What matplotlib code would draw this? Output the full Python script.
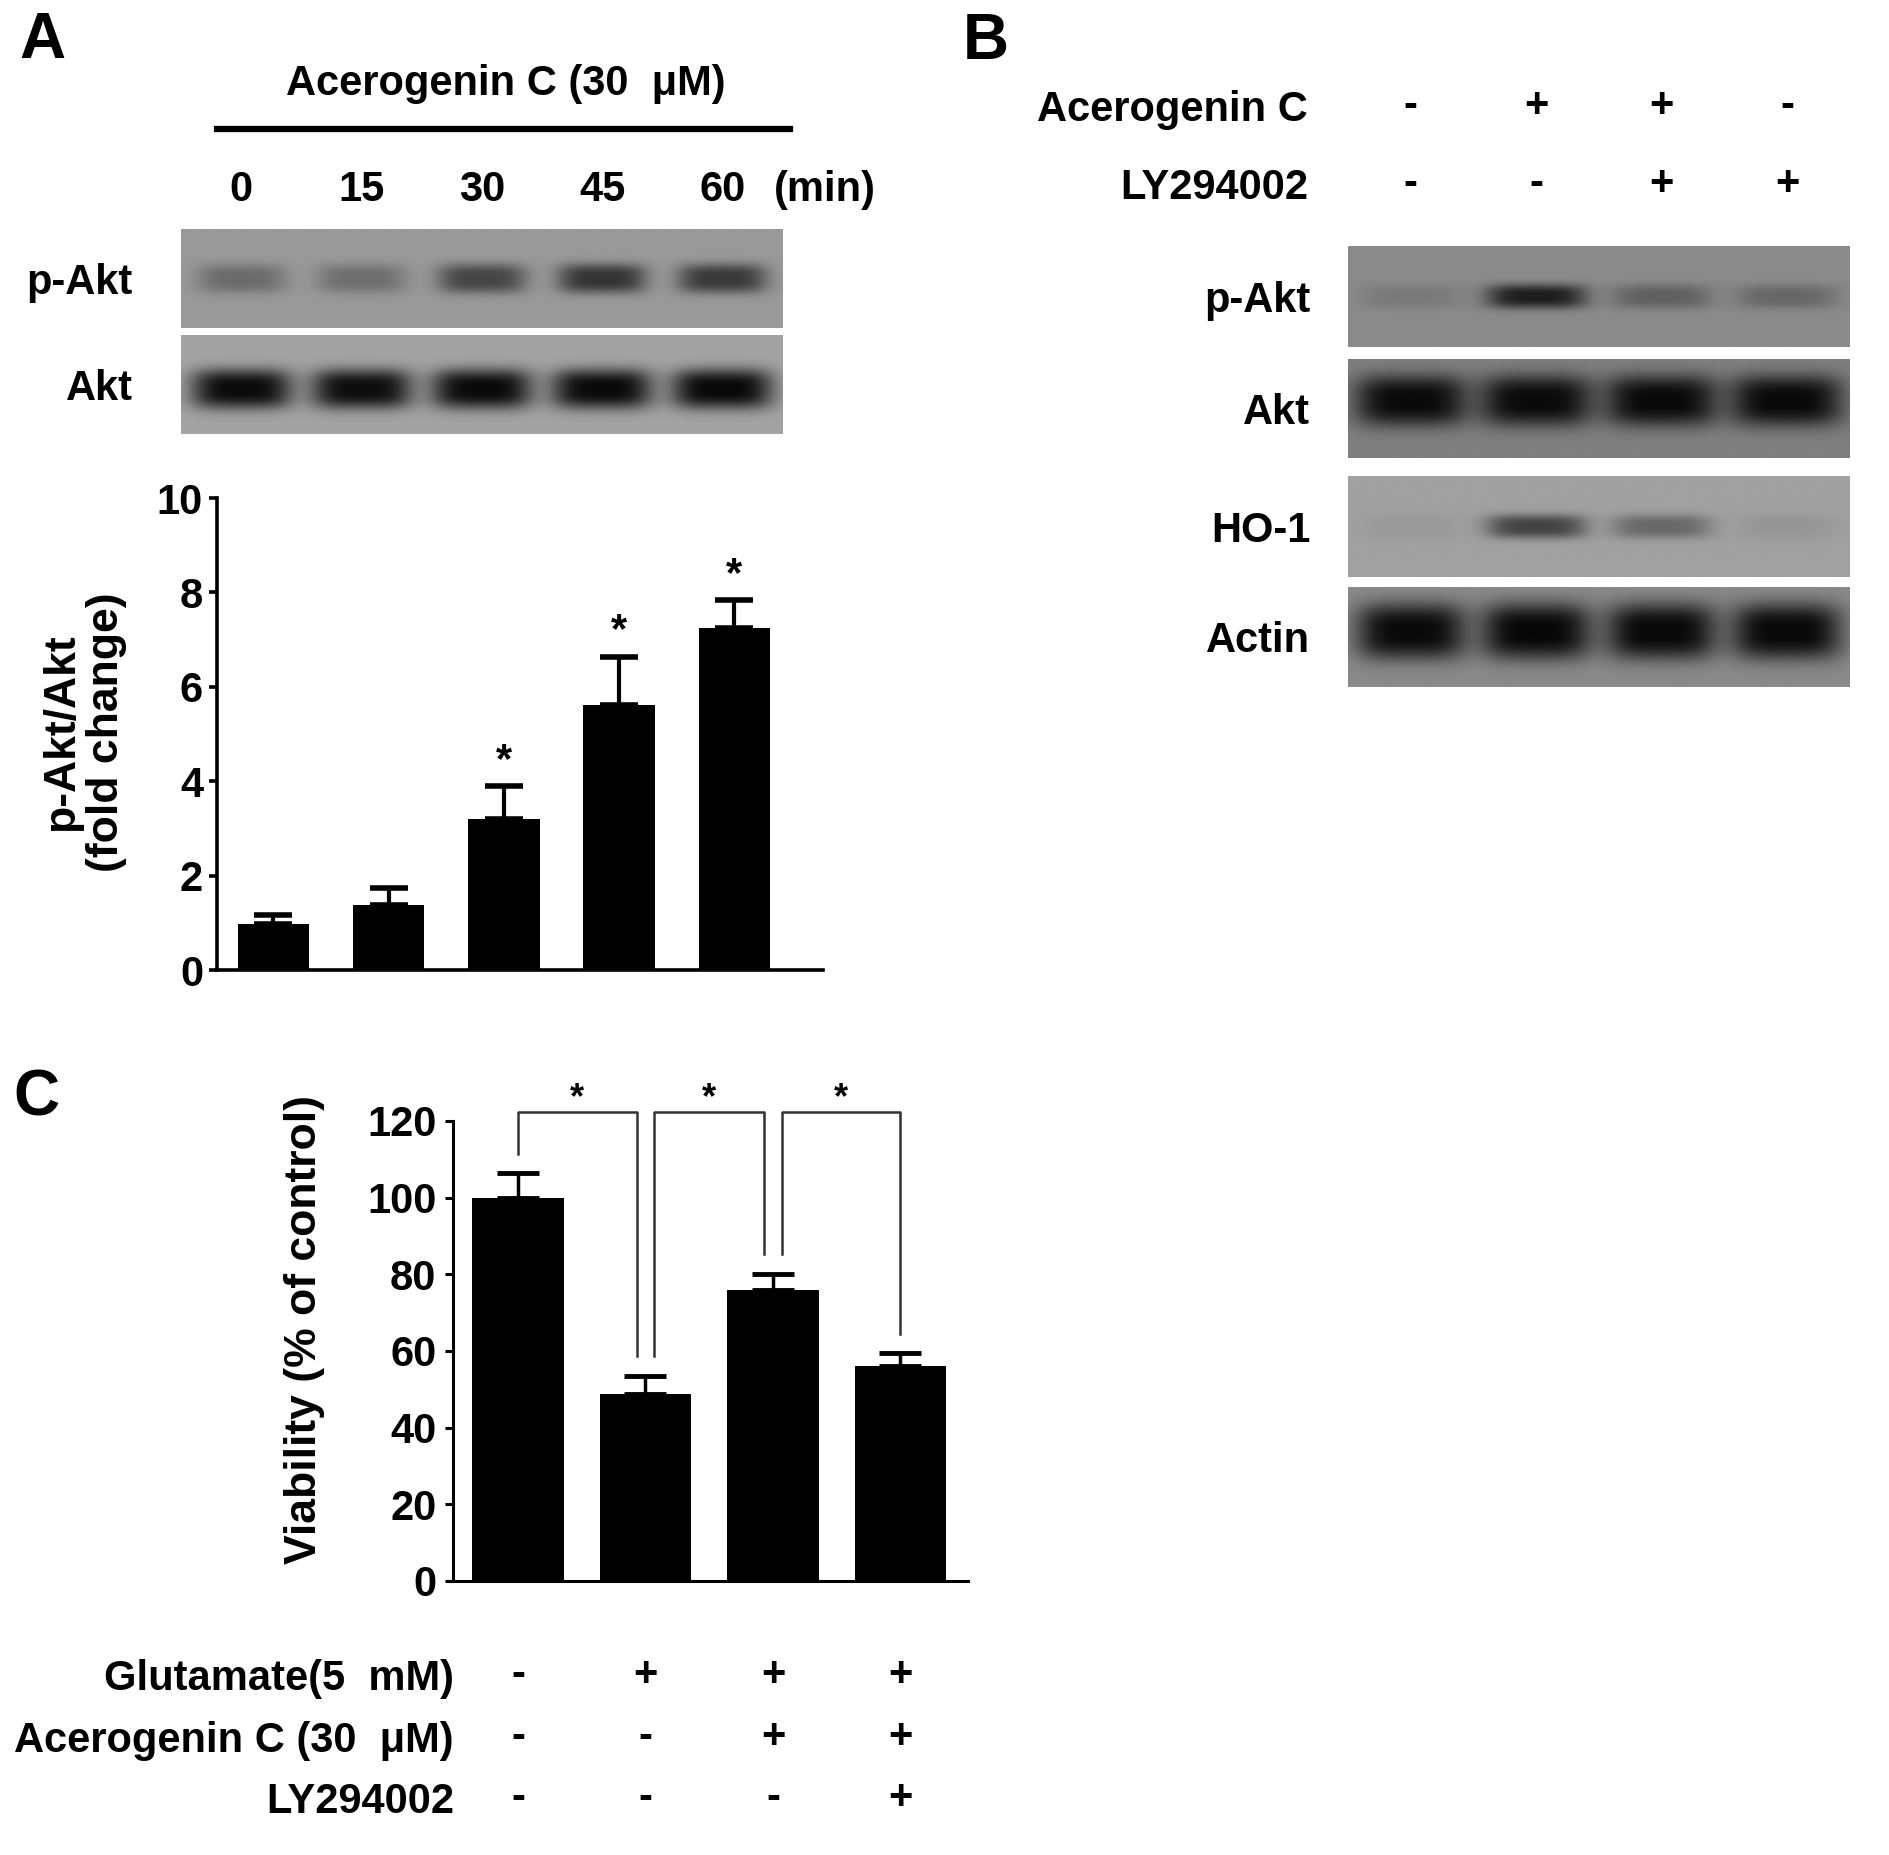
import numpy as np
import matplotlib
matplotlib.use("Agg")
import matplotlib.pyplot as plt
from matplotlib.lines import Line2D
from matplotlib.transforms import blended_transform_factory

plt.rcParams['font.family'] = ['Liberation Sans', 'DejaVu Sans']
plt.rcParams['font.weight'] = 'bold'

# A: p-Akt time course (fold change)
time_labels = ['0', '15', '30', '45', '60']
fold_mean = [0.98, 1.38, 3.19, 5.61, 7.24]
fold_err = [0.19, 0.35, 0.70, 1.03, 0.59]
fold_sig = [False, False, True, True, True]
a_pakt_bands = [0.30, 0.28, 0.55, 0.66, 0.63]
a_akt_bands = [0.93, 0.92, 0.94, 0.94, 0.95]

# B: LY294002 blots
b_acero = ['-', '+', '+', '-']
b_ly = ['-', '-', '+', '+']
b_blot_names = ['p-Akt', 'Akt', 'HO-1', 'Actin']
b_pakt_bands = [0.12, 0.78, 0.30, 0.25]
b_akt_bands = [0.92, 0.92, 0.93, 0.93]
b_ho1_bands = [0.05, 0.58, 0.35, 0.07]
b_actin_bands = [0.93, 0.95, 0.94, 0.94]

# C: viability
via_mean = [99.9, 48.7, 75.9, 56.2]
via_err = [6.5, 4.9, 4.3, 3.2]
glut_row = ['-', '+', '+', '+']
acero_row = ['-', '-', '+', '+']
ly_row = ['-', '-', '-', '+']
sig_pairs = [(0, 1), (1, 2), (2, 3)]

W, H = 1890, 1855
fig = plt.figure(figsize=(W / 100, H / 100), dpi=100)
FS = 30


def box(x0, y0, x1, y1):
    return fig.add_axes([x0 / W, 1 - y1 / H, (x1 - x0) / W, (y1 - y0) / H])


def ftext(x, y, s, **kw):
    kw.setdefault('fontsize', FS)
    fig.text(x / W, 1 - y / H, s, **kw)


def blot(ax, bands, bg, yc, hh, hw=0.38):
    n = len(bands)
    xs = np.linspace(-0.5, n - 0.5, 80 * n)
    ys = np.linspace(0, 1, 150)
    X, Y = np.meshgrid(xs, ys)
    img = np.ones_like(X)
    for i, lv in enumerate(bands):
        img -= lv * np.exp(-(np.abs(X - i) / hw) ** 4 - (np.abs(Y - yc) / hh) ** 3)
    ax.imshow(bg * np.clip(img, 0, 1), cmap='gray', vmin=0, vmax=1,
              extent=(-0.5, n - 0.5, 1, 0), aspect='auto', interpolation='bilinear')
    ax.set_xlim(-0.5, n - 0.5)
    ax.set_ylim(1, 0)
    ax.axis('off')


# ---------------- panel A ----------------
ftext(42, 41, 'A', fontsize=46, ha='center', va='center')
ftext(506, 84, 'Acerogenin C (30  \u03bcM)', ha='center', va='center')
fig.add_artist(Line2D([217 / W, 790 / W], [1 - 129 / H] * 2, color='black', lw=4.5))

pa = box(181, 229, 783, 328)
blot(pa, a_pakt_bands, 0.60, 0.50, 0.15, hw=0.37)
aa = box(181, 335, 783, 434)
blot(aa, a_akt_bands, 0.64, 0.55, 0.20, hw=0.42)
for ax, name in [(pa, 'p-Akt'), (aa, 'Akt')]:
    ax.text(-0.08, 0.5, name, transform=ax.transAxes, ha='right', va='center_baseline', fontsize=FS)

tr = blended_transform_factory(pa.transData, fig.transFigure)
for i, t in enumerate(time_labels):
    pa.text(i, 1 - 190 / H, t, transform=tr, ha='center', va='center', fontsize=FS)
pa.text(len(time_labels) - 1 + 0.85, 1 - 190 / H, '(min)', transform=tr,
        ha='center', va='center', fontsize=FS)

ax = box(217, 498, 823, 970)
x = np.arange(len(fold_mean))
ax.bar(x, fold_mean, width=0.62, color='black')
ax.errorbar(x, fold_mean, yerr=[np.zeros(len(x)), fold_err], fmt='none',
            ecolor='black', elinewidth=3, capsize=14, capthick=4)
for i in x:
    if fold_sig[i]:
        ax.text(i, fold_mean[i] + fold_err[i] + 0.12, '*', ha='center', va='bottom', fontsize=FS)
ax.set_xlim(-0.49, 4.77)
ax.set_ylim(0, 10)
ax.set_yticks(range(0, 11, 2))
ax.set_xticks([])
for sp in ['top', 'right']:
    ax.spines[sp].set_visible(False)
for sp in ['left', 'bottom']:
    ax.spines[sp].set_linewidth(2.6)
ax.tick_params(axis='y', direction='out', length=6, width=2.6, labelsize=FS, pad=4)
ftext(84, 732, 'p-Akt/Akt\n(fold change)', rotation=90, ha='center', va='center',
      fontsize=32, linespacing=1.1)

# ---------------- panel B ----------------
ftext(986, 42, 'B', fontsize=46, ha='center', va='center')
b_boxes = [(246, 347), (359, 458), (476, 577), (587, 687)]
b_bands = [b_pakt_bands, b_akt_bands, b_ho1_bands, b_actin_bands]
b_bg = [0.54, 0.50, 0.63, 0.54]
b_yc = [0.50, 0.42, 0.50, 0.45]
b_hh = [0.12, 0.26, 0.12, 0.28]
b_hw = [0.40, 0.45, 0.40, 0.44]
b_axes = []
for (y0, y1), bands, bg, yc, hh, hw, name in zip(b_boxes, b_bands, b_bg, b_yc, b_hh, b_hw, b_blot_names):
    bx = box(1348, y0, 1850, y1)
    blot(bx, bands, bg, yc, hh, hw=hw)
    bx.text(-0.075, 0.5, name, transform=bx.transAxes, ha='right', va='center_baseline', fontsize=FS)
    b_axes.append(bx)

tr = blended_transform_factory(b_axes[0].transData, fig.transFigure)
for row, label, yy in [(b_acero, 'Acerogenin C', 110), (b_ly, 'LY294002', 188)]:
    ftext(1308, yy, label, ha='right', va='center')
    for i, s in enumerate(row):
        b_axes[0].text(i, 1 - (yy - 4) / H, s, transform=tr, ha='center', va='center', fontsize=FS)

# ---------------- panel C ----------------
ftext(36, 1099, 'C', fontsize=46, ha='center', va='center')
cx = box(453, 1121, 968, 1581)
xc = np.arange(len(via_mean))
cx.bar(xc, via_mean, width=0.72, color='black')
cx.errorbar(xc, via_mean, yerr=[np.zeros(len(xc)), via_err], fmt='none',
            ecolor='black', elinewidth=2.5, capsize=15, capthick=3.5)
cx.set_xlim(-0.51, 3.53)
cx.set_ylim(0, 120)
cx.set_yticks(range(0, 121, 20))
cx.set_xticks([])
for sp in ['top', 'right']:
    cx.spines[sp].set_visible(False)
for sp in ['left', 'bottom']:
    cx.spines[sp].set_linewidth(2.2)
cx.tick_params(axis='y', direction='out', length=6, width=2.2, labelsize=FS, pad=6)

gap = 0.07
top = 122.3
for i, j in sig_pairs:
    left = i + gap if i > 0 else i
    right = j - gap if j < len(via_mean) - 1 else j
    lb = via_mean[i] + via_err[i] + 5
    rb = via_mean[j] + via_err[j] + 5
    cx.plot([left, left, right, right], [lb, top, top, rb], color='#333333', lw=1.8, clip_on=False)
    cx.text((left + right) / 2, top - 1, '*', ha='center', va='bottom', fontsize=26, clip_on=False)

ftext(305, 1329, 'Viability (% of control)', rotation=90, ha='center', va='center', fontsize=32)

tr = blended_transform_factory(cx.transData, fig.transFigure)
for row, label, yy in [(glut_row, 'Glutamate(5  mM)', 1679),
                       (acero_row, 'Acerogenin C (30  \u03bcM)', 1741),
                       (ly_row, 'LY294002', 1802)]:
    ftext(454, yy, label, ha='right', va='center')
    for i, s in enumerate(row):
        cx.text(i, 1 - (yy - 4) / H, s, transform=tr, ha='center', va='center', fontsize=FS)

fig.savefig('out.png', dpi=100, facecolor='white')
